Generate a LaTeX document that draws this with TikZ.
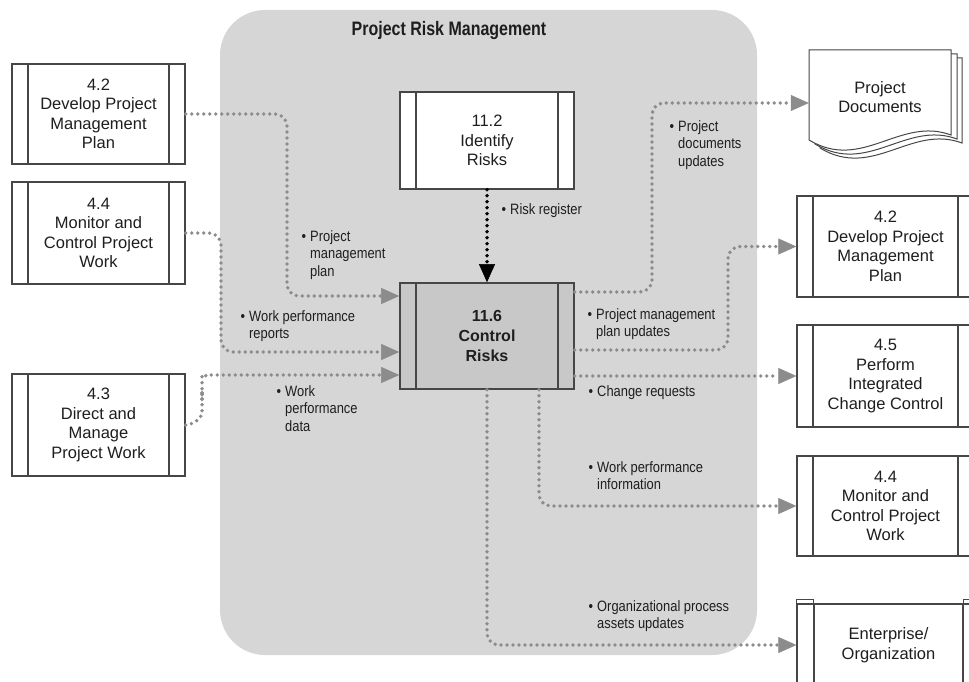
\documentclass[tikz,border=0pt]{standalone}
\usepackage{fontspec}
\setmainfont{Liberation Sans}
\newfontfamily\labfont{Liberation Sans}[FakeStretch=0.86]
\newfontfamily\titlefont{Liberation Sans}[FakeStretch=0.82]
\usetikzlibrary{arrows.meta}
\definecolor{panel}{RGB}{214,214,214}
\definecolor{crfill}{RGB}{200,200,200}
\definecolor{flowgray}{RGB}{140,140,140}
\definecolor{edge}{RGB}{70,70,70}
\definecolor{ink}{RGB}{30,30,30}

\tikzset{
  procbox/.style={draw=edge, line width=1.3pt, fill=white, align=center,
    inner sep=0pt, text=ink, font=\fontsize{16.5}{19.5}\selectfont,
    path picture={\draw[edge, line width=1.3pt]
      ([xshift=16pt]path picture bounding box.north west) --
      ([xshift=16pt]path picture bounding box.south west)
      ([xshift=-16pt]path picture bounding box.north east) --
      ([xshift=-16pt]path picture bounding box.south east);}},
  flow/.style={draw=flowgray, line width=3.8pt, line cap=round,
    dash pattern=on 0pt off 6pt, rounded corners=12pt,
    -{Triangle[length=18pt,width=16pt,line width=0.5pt,fill=flowgray]}},
  riskflow/.style={draw=black, line width=3.8pt, line cap=round,
    dash pattern=on 0pt off 6pt,
    -{Triangle[length=18pt,width=16pt,line width=0.5pt,fill=black]}},
  lab/.style={font=\labfont\fontsize{15}{17.5}\selectfont, align=left,
    anchor=north west, inner sep=0pt, text=ink},
  pagedoc/.style={fill=white, draw=edge, line width=1pt},
}
\newcommand{\bul}{\llap{\textbullet\hspace{4pt}}}

\begin{document}
\begin{tikzpicture}[x=1pt, y=-1pt]
\useasboundingbox (0,0) rectangle (969,682);
\clip (0,0) rectangle (969,682);

% process group panel
\fill[panel, rounded corners=45pt] (220,10) rectangle (757,655);
\node[font=\titlefont\bfseries\fontsize{19.5}{22}\selectfont, text=ink] (title) at (449,31) {Project Risk Management};

% input processes
\node[procbox, minimum width=173pt, minimum height=100pt] (L42) at (98.5,114) {4.2\\Develop Project\\Management\\Plan};
\node[procbox, minimum width=173pt, minimum height=102pt] (L44) at (98.5,233) {4.4\\Monitor and\\Control Project\\Work};
\node[procbox, minimum width=173pt, minimum height=102pt] (L43) at (98.5,425) {4.3\\Direct and\\Manage\\Project Work};

% risk processes
\node[procbox, minimum width=174pt, minimum height=97pt] (IR) at (487,140.5) {11.2\\Identify\\Risks};
\node[procbox, fill=crfill, line width=1.6pt, font=\bfseries\fontsize{16}{20}\selectfont, minimum width=174pt, minimum height=106pt] (CR) at (487,336) {11.6\\Control\\Risks};

% output processes
\node[procbox, minimum width=177pt, minimum height=101pt] (R42) at (885.5,246.5) {4.2\\Develop Project\\Management\\Plan};
\node[procbox, minimum width=177pt, minimum height=102pt] (R45) at (885.5,376) {4.5\\Perform\\Integrated\\Change Control};
\node[procbox, minimum width=177pt, minimum height=100pt] (R44) at (885.5,506) {4.4\\Monitor and\\Control Project\\Work};

% enterprise / organization box with raised side strips
\node[procbox, minimum width=183pt, minimum height=82pt, path picture={\draw[edge, line width=1.3pt]
      ([xshift=17pt]path picture bounding box.north west) --
      ([xshift=17pt]path picture bounding box.south west)
      ([xshift=-17pt]path picture bounding box.north east) --
      ([xshift=-17pt]path picture bounding box.south east);}] (ENT) at (888.5,645) {Enterprise/\\Organization};
\draw[edge, line width=1.3pt, fill=white] (ENT.north west) -- ++(0pt,4pt) -- ++(17pt,0pt) -- ++(0pt,-4pt);
\draw[edge, line width=1.3pt, fill=white] (ENT.north east) -- ++(0pt,4pt) -- ++(-17pt,0pt) -- ++(0pt,-4pt);

% document stack
\foreach \dx/\dy in {11/8, 6/4, 0/0}
  \filldraw[pagedoc, shift={(\dx,\dy)}] (809,50) -- (951,50) -- (951,135)
    .. controls (900,116) and (862,172) .. (809,140) -- cycle;
\node[font=\fontsize{16.5}{19.5}\selectfont, text=ink, align=center, minimum width=142pt, minimum height=90pt, inner sep=0pt] (DOC) at (880,97) {Project\\Documents};

% inputs
\draw[flow] (L42.east) -- (287,114) -- (287,296) -- ([yshift=40pt]CR.west);
\draw[flow] (L44.east) -- (221,233) -- (221,352) -- ([yshift=-16pt]CR.west);
\draw[flow] (L43.east) .. controls (198,424) and (202,414) .. (202,402) -- (202,388)
  .. controls (202,380) and (207,375) .. (218,375) -- ([yshift=-39pt]CR.west);
\draw[riskflow] (IR.south) -- (CR.north);

% outputs
\draw[flow] ([yshift=44pt]CR.east) -- (652,292) -- (652,103) -- ([yshift=-6pt]DOC.west);
\draw[flow] ([yshift=-14pt]CR.east) -- (728,350) -- (728,246.5) -- (R42.west);
\draw[flow] (CR.east |- R45.west) -- (R45.west);
\draw[flow] ([xshift=52pt]CR.south) |- (R44.west);
\draw[flow] (CR.south) |- (ENT.west);

% data labels
\node[lab] (tPMP) at (310,230) {\bul Project\\management\\plan};
\node[lab] (tWPR) at (249,310) {\bul Work performance\\reports};
\node[lab] (tWPD) at (285,385) {\bul Work\\performance\\data};
\node[lab] (tRR) at (510,203) {\bul Risk register};
\node[lab] (tPDU) at (678,120) {\bul Project\\documents\\updates};
\node[lab] (tPMPU) at (596,308) {\bul Project management\\plan updates};
\node[lab] (tCRQ) at (597,385) {\bul Change requests};
\node[lab] (tWPI) at (597,461) {\bul Work performance\\information};
\node[lab] (tOPA) at (597,600) {\bul Organizational process\\assets updates};
\end{tikzpicture}
\end{document}
